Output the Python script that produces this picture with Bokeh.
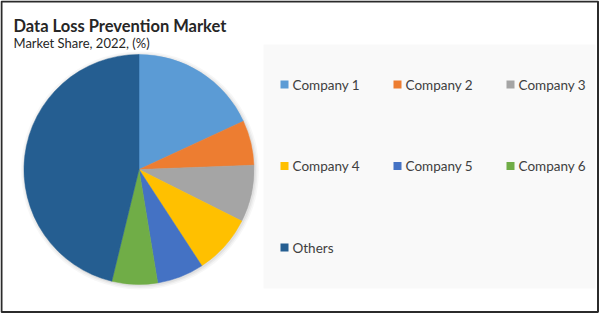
import numpy as np
from bokeh.plotting import figure
from bokeh.models import ColumnDataSource, Range1d
from bokeh.embed import file_html
from bokeh.resources import INLINE
from bokeh.core.properties import value

# ---- data ----
categories = ["Company 1", "Company 2", "Company 3", "Company 4",
              "Company 5", "Company 6", "Others"]
shares = [18.1, 6.3, 8.0, 8.4, 6.6, 6.4, 46.2]
colors = ["#5B9BD5", "#ED7D31", "#A5A5A5", "#FFC000",
          "#4472C4", "#70AD47", "#255E91"]
title_text = "Data Loss Prevention Market"
subtitle_text = "Market Share, 2022, (%)"

W, H = 600, 314
FONT = "Lato"

p = figure(width=W, height=H, x_range=Range1d(0, W), y_range=Range1d(0, H),
           output_backend="svg", toolbar_location=None, min_border=0)
p.axis.visible = False
p.grid.visible = False
p.outline_line_color = None
p.background_fill_color = "white"
p.border_fill_color = "white"

# outer frame
p.quad(left=1, right=597.5, bottom=H - 311.5, top=H - 1,
       fill_color=None, line_color="#2b2b2b", line_width=2)

# legend background panel
p.quad(left=263, right=595, bottom=H - 288, top=H - 44,
       fill_color="#F9F9F9", line_color=None)

# pie
cx, cy, r = 138.5, H - 169, 115
vals = np.array(shares, dtype=float)
cum = np.cumsum(vals) / vals.sum()
prev = np.concatenate([[0.0], cum[:-1]])
start = np.pi / 2 - 2 * np.pi * prev
end = np.pi / 2 - 2 * np.pi * cum

# soft shadow
for rr, a in [(119, 0.03), (117.5, 0.04), (116, 0.05)]:
    p.circle(x=cx + 1, y=cy - 1, radius=rr, fill_color="black",
             fill_alpha=a, line_color=None)

src = ColumnDataSource(dict(start=start, end=end, color=colors, cat=categories))
p.wedge(x=cx, y=cy, radius=r, start_angle="start", end_angle="end",
        direction="clock", fill_color="color", line_color="color",
        line_width=0.5, source=src)

# legend entries
n = len(categories)
idx = np.arange(n)
lx = 280 + (idx % 3) * 113.0
ly = H - (84 + (idx // 3) * 81.5)
lsrc = ColumnDataSource(dict(x=lx + 4, tx=lx + 12, y=ly, color=colors, cat=categories))
p.rect(x="x", y="y", width=8, height=8, fill_color="color", line_color=None, source=lsrc)
p.text(x="tx", y="y", text="cat", source=lsrc, text_font=value(FONT),
       text_font_size="13.5px", text_color="#404040", text_baseline="middle",
       text_align="left")

# titles
p.text(x=[13], y=[H - 25], text=[title_text], text_font=value(FONT),
       text_font_size="16.5px", text_font_style="bold", text_color="#262626",
       text_baseline="alphabetic")
p.text(x=[13], y=[H - 42], text=[subtitle_text], text_font=value(FONT),
       text_font_size="13px", text_color="#262626", text_baseline="alphabetic")

open("out.html", "w").write(file_html(p, INLINE))
